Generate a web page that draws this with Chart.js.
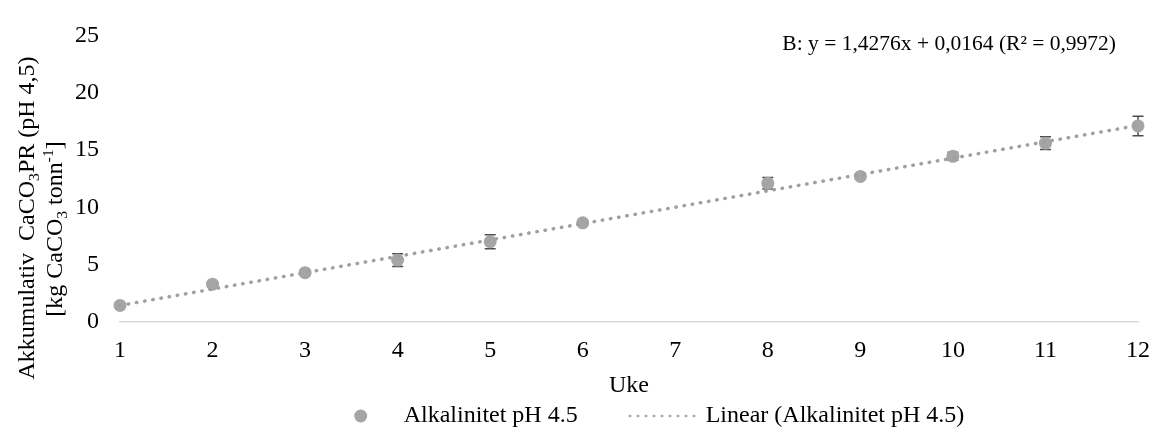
<!DOCTYPE html>
<html>
<head>
<meta charset="utf-8">
<script src="https://cdn.jsdelivr.net/npm/chart.js@4/dist/chart.umd.min.js"></script>
<style>
  html, body { margin: 0; padding: 0; background: #fff; }
  #wrap { width: 1164px; height: 430px; }
</style>
</head>
<body>
<div id="wrap"><canvas id="alkChart"></canvas></div>
<script>
const weeks = [1, 2, 3, 4, 5, 6, 8, 9, 10, 11, 12];
const values = [1.45, 3.3, 4.3, 5.4, 7.0, 8.65, 12.1, 12.7, 14.45, 15.6, 17.1];
const errors = [0.1, 0.2, 0.2, 0.55, 0.6, 0.15, 0.5, 0.2, 0.35, 0.55, 0.85];
const weekTicks = [1, 2, 3, 4, 5, 6, 7, 8, 9, 10, 11, 12];
const yTicks = [0, 5, 10, 15, 20, 25];

// Excel trendline coefficients
const trendSlope = 1.4276;
const trendIntercept = 0.0164;
const trendR2 = "0,9972";

const grey = "#a5a5a5";
const serif = "'Liberation Serif', 'Times New Roman', serif";

Chart.defaults.font.family = serif;
Chart.defaults.color = "#000";

var points = [];
for (let i = 0; i < weeks.length; i++) {
    points.push({ x: weeks[i], y: values[i] });
}

var firstWeek = weekTicks[0];
var lastWeek = weekTicks[weekTicks.length - 1];
var trend = [
    { x: firstWeek, y: trendSlope * firstWeek + trendIntercept },
    { x: lastWeek, y: trendSlope * lastWeek + trendIntercept }
];

// text with subscript / superscript runs, rotated for the y title
function runWidth(ctx, runs, size) {
    let w = 0;
    for (const r of runs) {
        ctx.font = (r.sub || r.sup ? size * 0.65 : size) + "px " + serif;
        w += ctx.measureText(r.t).width;
    }
    return w;
}

function drawRuns(ctx, runs, cx, cy, size) {
    ctx.save();
    ctx.translate(cx, cy);
    ctx.rotate(-Math.PI / 2);
    ctx.fillStyle = "#000";
    ctx.textBaseline = "alphabetic";
    ctx.textAlign = "left";
    let x = -runWidth(ctx, runs, size) / 2;
    const base = size * 0.34;
    for (const r of runs) {
        let s = size, dy = 0;
        if (r.sub) { s = size * 0.65; dy = size * 0.2; }
        if (r.sup) { s = size * 0.65; dy = -size * 0.38; }
        ctx.font = s + "px " + serif;
        ctx.fillText(r.t, x, base + dy);
        x += ctx.measureText(r.t).width;
    }
    ctx.restore();
}

const yTitleLines = [
    [{ t: "Akkumulativ  CaCO" }, { t: "3", sub: true }, { t: "PR (pH 4,5)" }],
    [{ t: "[kg CaCO" }, { t: "3", sub: true }, { t: " tonn" }, { t: "-1", sup: true }, { t: "]" }]
];

const errorBars = {
    id: "errorBars",
    beforeDatasetsDraw(chart) {
        const ctx = chart.ctx;
        const xs = chart.scales.x, ys = chart.scales.y;
        ctx.save();
        ctx.strokeStyle = "#4d4d4d";
        ctx.lineWidth = 1.5;
        for (let i = 0; i < weeks.length; i++) {
            const px = xs.getPixelForValue(weeks[i]);
            const top = ys.getPixelForValue(values[i] + errors[i]);
            const bot = ys.getPixelForValue(values[i] - errors[i]);
            ctx.beginPath();
            ctx.moveTo(px, top); ctx.lineTo(px, bot);
            ctx.moveTo(px - 5.5, top); ctx.lineTo(px + 5.5, top);
            ctx.moveTo(px - 5.5, bot); ctx.lineTo(px + 5.5, bot);
            ctx.stroke();
        }
        ctx.restore();
    }
};

const extras = {
    id: "extras",
    afterDraw(chart) {
        const ctx = chart.ctx;
        const area = chart.chartArea;

        // y axis title, two lines
        drawRuns(ctx, yTitleLines[0], 26, 218, 24);
        drawRuns(ctx, yTitleLines[1], 54, 229, 24);

        // trendline equation
        ctx.save();
        ctx.font = "21.5px " + serif;
        ctx.fillStyle = "#000";
        ctx.textAlign = "right";
        ctx.textBaseline = "middle";
        ctx.fillText("B: y = " + String(trendSlope).replace(".", ",") + "x + " +
            String(trendIntercept).replace(".", ",") + " (R² = " + trendR2 + ")", area.right - 22, 44);
        ctx.restore();

        // legend
        const labels = chart.data.datasets.map(d => d.label);
        ctx.save();
        ctx.font = "24px " + serif;
        const w1 = ctx.measureText(labels[0]).width;
        const w2 = ctx.measureText(labels[1]).width;
        const total = 70 + 8 + w1 + 50 + 70 + 8 + w2;
        let x = (area.left + area.right) / 2 + 16 - total / 2;
        const y = 416;
        ctx.fillStyle = grey;
        ctx.beginPath();
        ctx.arc(x + 35, y, 6.5, 0, Math.PI * 2);
        ctx.fill();
        ctx.fillStyle = "#000";
        ctx.textBaseline = "middle";
        ctx.fillText(labels[0], x + 78, y);
        x += 78 + w1 + 50;
        ctx.strokeStyle = grey;
        ctx.lineWidth = 2.5;
        ctx.lineCap = "round";
        ctx.setLineDash([0.5, 7.5]);
        ctx.beginPath();
        ctx.moveTo(x + 2, y); ctx.lineTo(x + 70, y);
        ctx.stroke();
        ctx.setLineDash([]);
        ctx.fillText(labels[1], x + 78, y);
        ctx.restore();
    }
};

const ctx = document.getElementById("alkChart");

new Chart(ctx, {
    type: "scatter",
    data: {
        datasets: [{
            label: "Alkalinitet pH 4.5",
            data: points,
            backgroundColor: grey,
            borderWidth: 0,
            pointRadius: 6.5,
            pointHoverRadius: 6.5,
            clip: false,
            order: 1
        }, {
            label: "Linear (Alkalinitet pH 4.5)",
            type: "line",
            data: trend,
            borderColor: "#a0a0a0",
            borderWidth: 3.5,
            borderDash: [0.5, 7.8],
            borderCapStyle: "round",
            pointRadius: 0,
            fill: false,
            clip: false,
            order: 0
        }]
    },
    options: {
        responsive: true,
        maintainAspectRatio: false,
        animation: false,
        layout: { padding: { top: 22, right: 15, bottom: 30, left: 0 } },
        plugins: {
            legend: { display: false },
            tooltip: { enabled: false }
        },
        scales: {
            x: {
                type: "linear",
                min: firstWeek,
                max: lastWeek,
                afterBuildTicks: axis => { axis.ticks = weekTicks.map(v => ({ value: v })); },
                grid: { display: false, drawTicks: false },
                border: { color: "#d9d9d9", width: 1.5 },
                ticks: { padding: 14, font: { size: 24 }, color: "#000" },
                title: { display: true, text: "Uke", font: { size: 24 }, color: "#000", padding: 0 },
                afterFit: s => { s.height = 78; }
            },
            y: {
                min: 0,
                max: 25,
                afterBuildTicks: axis => { axis.ticks = yTicks.map(v => ({ value: v })); },
                grid: { display: false, drawTicks: false },
                border: { display: false },
                ticks: { padding: 21, font: { size: 24 }, color: "#000" },
                afterFit: s => { s.width = 120; }
            }
        }
    },
    plugins: [errorBars, extras]
});
</script>
</body>
</html>
